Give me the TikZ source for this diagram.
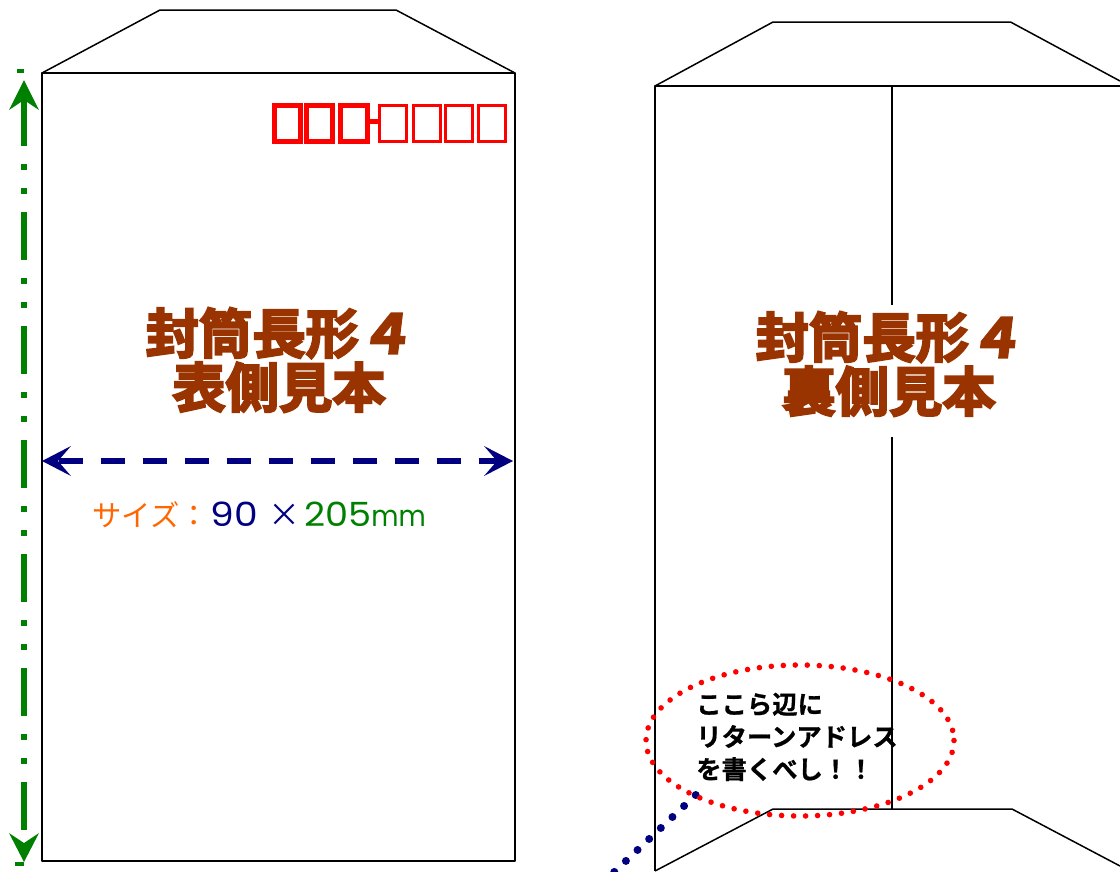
\documentclass[tikz,border=0pt]{standalone}
\usepackage{fontspec}
\usetikzlibrary{arrows.meta}
\newfontfamily\cjkbold[FakeBold=4]{Noto Sans CJK JP Bold}
\newfontfamily\cjkslant[FakeBold=5,FakeSlant=0.12]{Noto Sans CJK JP Bold}
\newfontfamily\cjkmed[FakeBold=0.8]{Noto Sans CJK JP Bold}
\newfontfamily\cjkreg{Noto Sans CJK JP}
\newfontfamily\latinwide{Poppins}
\definecolor{brownt}{HTML}{993300}
\definecolor{navyl}{HTML}{000080}
\definecolor{greenl}{HTML}{008000}
\definecolor{oranget}{HTML}{FF6600}
\tikzset{
  env/.style={draw=black,line width=1.5*0.75pt,line join=round},
  titletext/.style={text=brownt,font=\cjkbold\fontsize{40}{40.5}\selectfont,align=center,inner sep=0pt},
  zipthick/.style={draw=red,line width=3.75pt},
  zipthin/.style={draw=red,line width=2.3pt},
  note/.style={font=\cjkmed\fontsize{19}{24.4}\selectfont,align=left,inner sep=0pt,anchor=north west,text=black},
  sizetext/.style={inner sep=0pt,anchor=base west},
}
\begin{document}
\begin{tikzpicture}[x=0.75pt,y=-0.75pt]
\useasboundingbox (0,0) rectangle (1120,871);
% front envelope
\draw[env] (42,73) rectangle (515,861);
\draw[env] (42,73) -- (160,10) -- (396,10) -- (515,73);
% back envelope
\draw[env] (1120,86) -- (655,86) -- (655,871);
\draw[env] (655,86) -- (773,22) -- (1010.5,22) -- (1120,81);
\coordinate (seamtop) at (892,86);
\coordinate (seamgapa) at (892,305);
\coordinate (seamgapb) at (892,437);
\coordinate (seambot) at (892,809);
\draw[env] (seamtop) -- (seamgapa) (seamgapb) -- (seambot);
\draw[env] (655,871) -- (773,809) -- (1012,809) -- (1120,866);
% zip boxes
\foreach \a/\b in {272/303,304/335,338/370}
  \draw[zipthick] (\a+2.5,105.2) rectangle (\b-2.5,141.5);
\path[fill=red] (370,119) rectangle (378,124);
\foreach \a/\b in {378/408,412/442,444/474,477/507}
  \draw[zipthin] (\a+1.5,105.5) rectangle (\b-1.5,141.8);
% titles
\node[titletext] (front) at (279,360) {封筒長形{\cjkslant ４}\\表側見本};
\node[titletext] (back) at (889,364) {封筒長形{\cjkslant ４}\\裏側見本};
% dimension arrows
\coordinate (wl) at (58.7,461);
\coordinate (wr) at (497,461);
\draw[navyl,line width=4pt,dash pattern=on 18pt off 13.5pt] (wl) -- (wr);
\path[fill=navyl] (42,461) -- (71,446) -- (58,461) -- (71,476) -- cycle;
\path[fill=navyl] (513,461) -- (484,446) -- (497,461) -- (484,476) -- cycle;
\coordinate (ht) at (24,98);
\coordinate (hb) at (24,846);
\draw[greenl,line width=4.5pt,dash pattern=on 36pt off 13.5pt on 4.5pt off 13.5pt on 4.5pt off 13.5pt] (ht) -- (hb);
\path[fill=greenl] (24,80) -- (39,110) -- (24,100) -- (9,110) -- cycle;
\path[fill=greenl] (24,862) -- (39,833) -- (24,843) -- (9,833) -- cycle;
\path[fill=greenl] (16.5,69) rectangle (24,73);
\path[fill=greenl] (15,862) rectangle (24,866);
% size label
\node[sizetext,text=oranget,font=\cjkreg\fontsize{22}{26}\selectfont] (sizea) at (92,526) {サイズ：};
\node[sizetext,text=navyl,font=\latinwide\fontsize{25}{26}\selectfont] (sizeb) at (210,526) {\scalebox{1.13}[1]{90}};
\node[sizetext,text=navyl,font=\cjkreg\fontsize{24}{26}\selectfont] (sizec) at (268,526) {×};
\node[sizetext,text=greenl,font=\latinwide\fontsize{25}{26}\selectfont] (sized) at (304,526) {\scalebox{1.1}[1]{205}\fontsize{22}{26}\selectfont\scalebox{0.9}[1]{mm}};
% callout
\coordinate (tailend) at (695.7,795);
\coordinate (tailfree) at (611,875);
\draw[navyl,line width=6pt,line cap=round,dash pattern=on 0pt off 12pt] (tailend) -- (tailfree);
\node[draw=none,inner sep=0pt] (callout) at (800,740.5) {};
\draw[red,line width=4.2pt,line cap=round,dash pattern=on 0pt off 9pt] (callout) ellipse [x radius=154,y radius=75.5];
\node[note] (notetext) at (696,692.5) {ここら辺に\\リターンアドレス\\を書くべし！！};
\end{tikzpicture}
\end{document}
